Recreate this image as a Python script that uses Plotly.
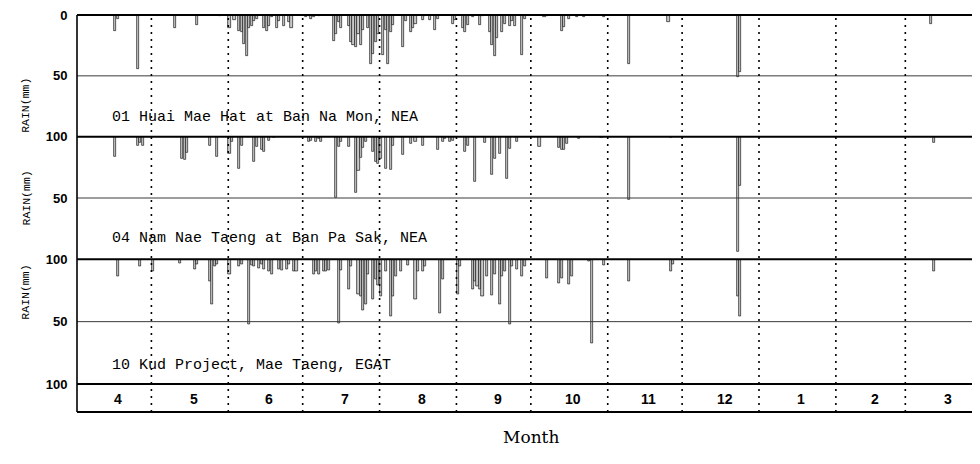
import plotly.graph_objects as go

# ---------------- data ----------------
# day number within the water year (1 = 1 April) and daily rainfall (mm)
month_labels = ["4", "5", "6", "7", "8", "9", "10", "11", "12", "1", "2", "3"]
month_days = [30, 31, 30, 31, 31, 30, 31, 30, 31, 31, 28, 31]

st01_name = "01 Huai Mae Hat at Ban Na Mon, NEA"
st01_day = [16, 17, 25, 40, 49, 58,
            62, 64, 66, 67, 68, 69, 70, 71, 72, 73, 76, 77, 78, 79, 81, 82, 84, 86, 87,
            93, 94, 95, 96, 98,
            104, 105, 106, 107, 110, 111, 112, 113, 114, 115, 116, 118, 119, 120, 121, 122,
            124, 125, 126, 127, 128, 132, 133, 135, 136, 137, 140, 141, 143, 145, 146,
            152, 153, 156, 157, 158, 160, 163, 164, 167, 168, 169, 170, 172, 173, 175, 176, 177, 180, 181,
            189, 190, 196, 197, 199, 202, 205, 213,
            223, 239, 267, 268, 345]
st01_mm = [13, 3, 44, 11, 8, 1,
           11, 4, 13, 14, 24, 34, 11, 9, 5, 3, 11, 13, 9, 2, 11, 5, 9, 6, 11,
           2, 1, 3, 2, 1,
           21, 16, 6, 11, 9, 22, 25, 26, 16, 25, 12, 11, 40, 32, 22, 16,
           33, 12, 40, 14, 8, 26, 5, 14, 11, 7, 4, 1, 4, 12, 3,
           7, 4, 11, 14, 8, 2, 8, 1, 14, 25, 34, 19, 14, 7, 9, 5, 9, 33, 3,
           2, 1, 13, 10, 3, 2, 2, 2,
           40, 6, 51, 47, 7]

st04_name = "04 Nam Nae Taeng at Ban Pa Sak, NEA"
st04_day = [16, 25, 26, 27, 43, 44, 45, 54, 57, 62, 63, 66, 67, 72, 73, 75, 76, 78, 80,
            94, 95, 97, 98, 99,
            105, 106, 107, 110, 113, 114, 115, 116, 117, 120, 121, 122, 123, 125, 127, 128,
            132, 135, 137, 140, 146, 148, 149, 151, 152,
            157, 158, 161, 165, 168, 169, 171, 174, 175, 178,
            187, 195, 196, 197, 198, 203, 212,
            223, 240, 267, 268, 346]
st04_mm = [16, 7, 5, 7, 18, 19, 13, 7, 16, 14, 4, 26, 7, 20, 8, 11, 12, 3, 1,
           4, 3, 4, 2, 4,
           50, 8, 4, 8, 46, 28, 17, 9, 4, 12, 20, 22, 18, 26, 27, 7,
           15, 6, 4, 7, 11, 4, 2, 4, 3,
           12, 7, 37, 5, 31, 18, 14, 34, 10, 4,
           8, 9, 11, 11, 6, 2, 1,
           51, 1, 94, 40, 5]

st10_name = "10 Kud Project, Mae Taeng, EGAT"
st10_day = [17, 26, 31, 42, 48, 49, 54, 55, 56, 57,
            62, 66, 67, 70, 71, 72, 74, 75, 76, 78, 79, 82, 83, 85, 86, 88, 89,
            96, 97, 98, 100, 101, 102,
            106, 107, 110, 111, 114, 115, 116, 117, 118, 120, 121, 122, 123, 125, 127, 128, 129,
            131, 134, 137, 138, 140, 141, 147, 148,
            154, 155, 160, 161, 162, 163, 164, 166, 168, 169, 171, 172, 173, 175, 176, 178, 180, 181,
            190, 195, 196, 199, 200, 207, 208, 213, 223,
            240, 241, 267, 268, 346]
st10_mm = [14, 6, 10, 3, 8, 4, 18, 36, 6, 4,
           12, 6, 4, 52, 5, 6, 7, 4, 8, 10, 12, 8, 9, 8, 4, 10, 10,
           12, 10, 12, 10, 10, 9,
           51, 9, 24, 6, 28, 30, 41, 36, 12, 32, 16, 21, 30, 10, 46, 30, 14,
           10, 5, 32, 10, 10, 6, 43, 16,
           28, 6, 24, 18, 22, 24, 30, 14, 29, 12, 36, 14, 10, 52, 6, 8, 14, 6,
           15, 19, 15, 20, 14, 2, 67, 5, 18,
           10, 4, 30, 46, 10]

stations = [(st01_name, st01_day, st01_mm),
            (st04_name, st04_day, st04_mm),
            (st10_name, st10_day, st10_mm)]

# ---------------- layout geometry ----------------
OFF = 8                      # page body margin of the written html
W, H = 980, 464
ML, MR = 77 - OFF, 0
MT = 15 - OFF
b_page = [15, 136.7, 259.3, 384.0, 412.0]     # panel boundaries (page px)
MB = H - (b_page[-1] - OFF)
PH = H - MT - MB
PW = W - ML - MR
PX_PER_DAY = 2.48


def frac(page_px):
    return (H - MB - (page_px - OFF)) / PH


def xfrac(page_px):
    return (page_px - 77) / PW


doms = [[frac(b_page[i + 1]), frac(b_page[i])] for i in range(4)]

fig = go.Figure()

axes = ["y", "y2", "y3"]
for (name, days, mm), ax in zip(stations, axes):
    fig.add_trace(go.Bar(
        x=[d - 0.5 for d in days], y=mm, width=0.85,
        xaxis="x", yaxis=ax,
        marker=dict(color="#c9c9c9", line=dict(color="#1a1a1a", width=0.7)),
        showlegend=False, hoverinfo="x+y"))

tickfont = dict(family="Liberation Sans", size=13, color="black", weight="bold")
common_y = dict(range=[100, 0], showgrid=False, zeroline=False, showline=False,
                ticks="outside", ticklen=6, tickcolor="rgba(0,0,0,0)",
                ticklabeloverflow="allow",
                tickfont=tickfont, fixedrange=True, automargin=False)

fig.update_layout(
    width=W, height=H,
    margin=dict(l=ML, r=MR, t=MT, b=MB),
    paper_bgcolor="white", plot_bgcolor="white",
    bargap=0,
    xaxis=dict(range=[0, PW / PX_PER_DAY], anchor="y4", showgrid=False, zeroline=False,
               showline=False, showticklabels=False, ticks="", automargin=False),
    yaxis=dict(domain=doms[0], tickvals=[0, 50, 100], anchor="x", **common_y),
    yaxis2=dict(domain=doms[1], tickvals=[50, 100], anchor="x", **common_y),
    yaxis3=dict(domain=doms[2], tickvals=[50, 100], anchor="x", **common_y),
    yaxis4=dict(domain=doms[3], range=[0, 1], showticklabels=False, showgrid=False,
                zeroline=False, showline=False, ticks="", anchor="x", automargin=False),
)

shapes = []
# thick horizontal boundaries
for px in b_page:
    shapes.append(dict(type="line", xref="paper", yref="paper", x0=0, x1=1,
                       y0=frac(px), y1=frac(px), line=dict(color="black", width=2)))
# 50 mm lines
for ax in ["y", "y2", "y3"]:
    shapes.append(dict(type="line", xref="paper", yref=ax, x0=0, x1=1, y0=50, y1=50,
                       line=dict(color="#3a3a3a", width=1)))
# left axis line
shapes.append(dict(type="line", xref="paper", yref="paper", x0=0, x1=0,
                   y0=frac(b_page[-1]), y1=frac(b_page[0]), line=dict(color="black", width=1.6)))
# month boundaries (dotted)
starts = []
acc = 0
for n in month_days:
    starts.append(acc)
    acc += n
for s in starts[1:]:
    shapes.append(dict(type="line", xref="x", yref="paper", x0=s, x1=s,
                       y0=frac(b_page[-1]), y1=frac(b_page[0]),
                       line=dict(color="black", width=1.6, dash="2px,5px")))
fig.update_layout(shapes=shapes)

ann = []
# month labels
for lab, s, n in zip(month_labels, starts, month_days):
    ann.append(dict(x=s + n / 2, y=frac(398.5), xref="x", yref="paper", text=lab,
                    showarrow=False, xshift=4, yanchor="middle",
                    font=dict(family="Liberation Sans", size=14, color="black", weight="bold")))
# station names
for (name, _, _), ax, yv in zip(stations, axes, [84, 83, 85]):
    ann.append(dict(x=xfrac(110), y=yv, xref="paper", yref=ax, text=name,
                    xanchor="left", yanchor="middle", showarrow=False,
                    font=dict(family="Liberation Mono", size=15, color="black")))
# y titles
for i, ax in enumerate(axes):
    ann.append(dict(x=xfrac(17), y=(doms[i][0] + doms[i][1]) / 2, xref="paper", yref="paper",
                    text="RAIN(mm)", textangle=-90, showarrow=False,
                    font=dict(family="Liberation Mono", size=11.5, color="black")))
# x title
ann.append(dict(x=xfrac(531), y=frac(437), xref="paper", yref="paper",
                text="Month", showarrow=False, yanchor="middle",
                font=dict(family="DejaVu Serif", size=17, color="black")))
fig.update_layout(annotations=ann)

fig.write_html("out.html")
